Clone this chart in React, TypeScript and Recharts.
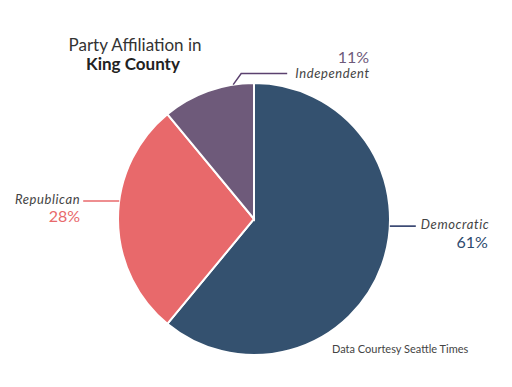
import { PieChart, Pie, Cell } from "recharts";

const PARTIES = ["Democratic", "Republican", "Independent"];
const SHARES = [61, 28, 11];
const COLORS = ["#34516f", "#e8696b", "#6e5a7a"];
const LINE_COLORS = ["#1f2f5f", "#e8696b", "#5b416f"];
const PCT_COLORS = ["#2c4a6e", "#e8696b", "#6e5a7a"];
// where on the rim each leader line starts (degrees, recharts convention)
const LABEL_ANGLES = [-3, 172.4, 98.8];

const FONT = "Lato, 'Open Sans', sans-serif";
const RAD = Math.PI / 180;

const data = PARTIES.map((name, i) => ({ name, value: SHARES[i] }));

function renderLabel(props: any) {
  const { cx, cy, outerRadius, index } = props;
  const a = LABEL_ANGLES[index] * RAD;
  const x = cx + outerRadius * Math.cos(a);
  const y = cy - outerRadius * Math.sin(a);
  const stroke = LINE_COLORS[index];
  const name = PARTIES[index];
  const pct = `${SHARES[index]}%`;
  const nameStyle = { fontFamily: FONT, fontStyle: "italic" as const, fontSize: 13, fill: "#444", letterSpacing: 0.6 };
  const pctStyle = { fontFamily: FONT, fontSize: 16, fill: PCT_COLORS[index] };

  if (index === 0) {
    const ex = x + 26;
    return (
      <g>
        <path d={`M${x},${y}H${ex}`} stroke={stroke} strokeWidth={1.5} fill="none" />
        <text x={ex + 5} y={y + 3} {...nameStyle}>{name}</text>
        <text x={ex + 72} y={y + 22} textAnchor="end" {...pctStyle}>{pct}</text>
      </g>
    );
  }
  if (index === 1) {
    const ex = x - 36;
    return (
      <g>
        <path d={`M${x},${y}H${ex}`} stroke={stroke} strokeWidth={1.5} fill="none" />
        <text x={ex - 3} y={y + 3} textAnchor="end" {...nameStyle}>{name}</text>
        <text x={ex - 3} y={y + 21} textAnchor="end" {...pctStyle}>{pct}</text>
      </g>
    );
  }
  const kx = x + 8;
  const ky = y - 11;
  const ex = kx + 46;
  return (
    <g>
      <path d={`M${x},${y}L${kx},${ky}H${ex}`} stroke={stroke} strokeWidth={1.5} fill="none" />
      <text x={ex + 8} y={ky + 4} {...nameStyle}>{name}</text>
      <text x={ex + 82} y={ky - 11} textAnchor="end" {...pctStyle}>{pct}</text>
    </g>
  );
}

export default function App() {
  return (
    <div style={{ position: "absolute", left: 0, top: 0, width: 512, height: 387, background: "#fff" }}>
      <PieChart width={512} height={387} margin={{ top: 0, right: 0, bottom: 0, left: 0 }}>
        <text x={135} y={51} textAnchor="middle" style={{ fontFamily: FONT, fontSize: 17, fill: "#333" }}>
          Party Affiliation in
        </text>
        <text x={133} y={70} textAnchor="middle" style={{ fontFamily: FONT, fontSize: 17, fontWeight: 700, fill: "#222" }}>
          King County
        </text>
        <Pie
          data={data}
          dataKey="value"
          cx={254}
          cy={219}
          innerRadius={0}
          outerRadius={136}
          startAngle={90}
          endAngle={-270}
          stroke="#fff"
          strokeWidth={2}
          label={renderLabel}
          labelLine={false}
          isAnimationActive={false}
        >
          {data.map((_, i) => (
            <Cell key={i} fill={COLORS[i]} />
          ))}
        </Pie>
        <text x={332} y={353} style={{ fontFamily: FONT, fontSize: 11, fill: "#444" }}>
          Data Courtesy Seattle Times
        </text>
      </PieChart>
    </div>
  );
}
